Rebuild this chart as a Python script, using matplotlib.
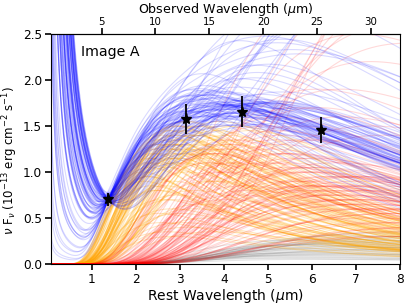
import numpy as np
import matplotlib
matplotlib.use("Agg")
import matplotlib.pyplot as plt

# ---------------- data ----------------
rest_wl = [1.378, 3.135, 4.406, 6.214]
flux = [0.703, 1.576, 1.656, 1.457]
flux_err = [0.07, 0.16, 0.165, 0.145]
one_plus_z = 4.086

# posterior-sample component parameters (estimated from the curve families)
orange_T = [1650, 1600, 1550, 1500, 1480, 1700, 1450, 1420, 1580, 1520, 1620, 1460, 1680, 1400, 1540, 1560,
            1200, 1250, 1100, 1300, 1150, 1350, 1220, 1180, 1280, 1120, 1320, 1240, 1160, 1260, 1300, 1200,
            1340, 1140, 1230, 1270, 1110, 1190, 1310, 1210, 1290, 1170, 1330, 1250,
            900, 1000, 850, 950, 1050, 800, 980, 920, 1030, 870, 960, 1010, 890, 940, 1040, 830,
            1300, 1200, 1400, 1100, 1000, 1350, 1250, 1450, 950, 1150, 1380, 1050, 1280, 1420, 1220, 980,
            1200, 1400, 1000, 1300, 1100, 1500, 900, 1250, 1600, 1150, 1050, 1350, 1300, 1100, 1450, 1000,
            1250, 1150, 1350, 1050]
orange_amp = [1.10, 1.15, 1.20, 1.30, 1.25, 1.00, 1.35, 1.30, 1.05, 1.15, 0.95, 1.20, 0.90, 1.40, 1.10, 0.85,
              1.45, 1.40, 1.50, 1.30, 1.35, 1.25, 1.20, 1.55, 1.10, 1.40, 1.35, 1.30, 1.25, 1.50, 1.20, 1.35,
              1.15, 1.45, 1.25, 1.40, 1.30, 1.50, 1.25, 1.10, 1.45, 1.20, 1.30, 1.15,
              1.40, 1.30, 1.50, 1.35, 1.25, 1.45, 1.20, 1.50, 1.40, 1.30, 1.45, 1.10, 1.25, 1.55, 1.15, 1.35,
              0.60, 0.45, 0.70, 0.80, 0.50, 0.35, 0.75, 0.55, 0.90, 0.40, 0.85, 0.65, 0.30, 0.45, 0.55, 0.35,
              1.30, 1.10, 1.25, 0.90, 1.40, 0.80, 1.10, 1.15, 0.95, 1.00, 1.20, 1.05, 0.70, 0.60, 0.80, 0.90,
              1.50, 1.55, 1.45, 1.50]
red_T = [650, 620, 680, 600, 640, 700, 580, 660, 900, 560, 850, 610, 950, 630, 670, 600,
         550, 580, 520, 600, 500, 620, 560, 540, 850, 500, 590, 610, 530, 570, 800, 520,
         600, 560, 540, 630, 510, 580, 560, 820, 520, 620, 540, 900,
         450, 480, 420, 500, 460, 440, 520, 470, 430, 490, 450, 540, 510, 440, 500, 460,
         700, 900, 680, 720, 950, 650, 920, 700, 660, 1000, 740, 690, 880, 980, 640, 700,
         450, 420, 500, 400, 550, 480, 380, 460, 520, 350, 430, 600, 650, 700, 560, 750,
         550, 500, 600, 480]
red_amp = [1.15, 1.05, 1.10, 1.05, 1.00, 1.20, 0.95, 0.90, 1.00, 1.10, 1.10, 1.15, 1.00, 0.85, 1.05, 1.35,
           0.75, 0.80, 0.70, 0.85, 0.80, 0.90, 0.95, 0.60, 0.75, 0.85, 0.75, 0.85, 0.95, 0.65, 0.80, 0.90,
           1.00, 0.75, 0.85, 0.80, 0.95, 0.70, 0.85, 0.85, 0.70, 1.00, 0.80, 0.70,
           0.35, 0.45, 0.40, 0.50, 0.55, 0.60, 0.65, 0.30, 0.40, 0.60, 0.45, 0.70, 0.65, 0.30, 0.60, 0.55,
           1.30, 1.30, 1.20, 1.25, 1.20, 1.50, 1.25, 1.35, 1.20, 1.10, 1.10, 1.40, 1.35, 1.20, 1.35, 1.45,
           2.40, 3.00, 2.20, 3.40, 1.90, 3.00, 3.80, 2.60, 2.50, 4.50, 2.80, 1.90, 1.70, 1.60, 3.00, 1.50,
           1.60, 1.50, 1.70, 1.40]
hot_index = [0.95, 1.00, 1.05, 1.00, 1.15, 0.90, 1.10, 1.20, 1.10, 1.15, 1.05, 1.20, 0.85, 1.15, 0.80, 1.25,
             1.35, 1.30, 1.45, 1.25, 1.40, 1.20, 1.40, 1.35, 1.30, 1.45, 1.20, 1.30, 1.45, 1.25, 1.30, 1.40,
             1.25, 1.45, 1.35, 1.25, 1.50, 1.35, 1.25, 1.40, 1.20, 1.45, 1.20, 1.35,
             1.55, 1.45, 1.50, 1.45, 1.40, 1.50, 1.45, 1.55, 1.40, 1.50, 1.45, 1.45, 1.55, 1.50, 1.40, 1.55,
             1.40, 1.50, 1.30, 1.45, 1.55, 1.40, 1.35, 1.30, 1.50, 1.45, 1.25, 1.50, 1.45, 1.35, 1.40, 1.55,
             1.35, 1.20, 1.45, 1.25, 1.40, 1.15, 1.50, 1.35, 1.10, 1.40, 1.45, 1.30, 1.35, 1.45, 1.25, 1.50,
             1.35, 1.40, 1.25, 1.45]
hot_at_1p38 = [0.04, 0.06, 0.08, 0.09, 0.14, 0.06, 0.13, 0.19, 0.13, 0.14, 0.15, 0.18, 0.02, 0.17, 0.03, 0.26,
               0.41, 0.36, 0.50, 0.33, 0.48, 0.29, 0.45, 0.41, 0.40, 0.50, 0.28, 0.39, 0.49, 0.33, 0.36, 0.43,
               0.33, 0.47, 0.42, 0.34, 0.52, 0.41, 0.34, 0.46, 0.29, 0.49, 0.29, 0.42,
               0.65, 0.61, 0.67, 0.63, 0.58, 0.68, 0.61, 0.64, 0.57, 0.66, 0.62, 0.62, 0.66, 0.63, 0.59, 0.68,
               0.53, 0.61, 0.44, 0.60, 0.66, 0.58, 0.52, 0.47, 0.65, 0.63, 0.40, 0.64, 0.61, 0.52, 0.58, 0.68,
               0.40, 0.28, 0.60, 0.35, 0.50, 0.24, 0.65, 0.42, 0.18, 0.48, 0.58, 0.36, 0.50, 0.60, 0.36, 0.62,
               0.42, 0.50, 0.32, 0.56]
gray_T = [520, 600, 480, 650, 550, 700, 500, 580, 620, 450, 560, 680, 530, 610, 490, 570, 640, 510, 590, 460,
          540, 660, 500, 600, 470, 630, 550, 520, 690, 580, 610, 530, 480, 570, 650]
gray_amp = [0.18, 0.12, 0.25, 0.10, 0.22, 0.08, 0.30, 0.15, 0.20, 0.28, 0.14, 0.09, 0.24, 0.17, 0.33, 0.11,
            0.21, 0.26, 0.13, 0.35, 0.19, 0.07, 0.23, 0.16, 0.29, 0.12, 0.27, 0.20, 0.06, 0.22, 0.05, 0.31,
            0.16, 0.10, 0.26]


def bb_norm(lam, T):
    """Blackbody in nu*F_nu, normalised to a peak of 1."""
    lam_peak = 3669.8 / T
    x = 14388.0 / (lam * T)
    with np.errstate(over="ignore", divide="ignore", invalid="ignore"):
        f = (lam_peak / lam) ** 4 * np.expm1(3.9207) / np.expm1(x)
    return np.nan_to_num(f)


lam = np.linspace(0.06, 8.2, 700)

fig = plt.figure(figsize=(4.07, 3.05), dpi=100)
ax = fig.add_axes([51 / 407, 41 / 305, 349 / 407, 230 / 305])

lw = 0.8
for T, A in zip(gray_T, gray_amp):
    ax.plot(lam, A * bb_norm(lam, T), color="gray", alpha=0.2, lw=lw)

oranges, reds, blues = [], [], []
for i in range(len(orange_T)):
    o = orange_amp[i] * bb_norm(lam, orange_T[i])
    r = red_amp[i] * bb_norm(lam, red_T[i])
    h = hot_at_1p38[i] * (lam / 1.38) ** (-hot_index[i])
    oranges.append(o)
    reds.append(r)
    blues.append(h + o + r)

for o in oranges:
    ax.plot(lam, o, color="orange", alpha=0.24, lw=lw)
for r in reds:
    ax.plot(lam, r, color="red", alpha=0.15, lw=lw)
for b in blues:
    ax.plot(lam, b, color="blue", alpha=0.15, lw=lw)

ax.errorbar(rest_wl, flux, yerr=flux_err, fmt="*", color="black", ms=8, elinewidth=1.3, capsize=0, zorder=10)

ax.set_xlim(0.076, 8)
ax.set_ylim(0, 2.5)
ax.set_xticks([1, 2, 3, 4, 5, 6, 7, 8])
ax.set_yticks([0.0, 0.5, 1.0, 1.5, 2.0, 2.5])
ax.tick_params(direction="out", length=4, width=1.2, labelsize=8.7, pad=2.5)
ax.set_xlabel(r"Rest Wavelength ($\mu$m)", fontsize=10, labelpad=1)
ax.set_ylabel(r"$\nu$ F$_\nu$ (10$^{-13}$ erg cm$^{-2}$ s$^{-1}$)", fontsize=8.5)
ax.yaxis.set_label_coords(-0.09, 0.45)

sec = ax.secondary_xaxis("top", functions=(lambda x: x * one_plus_z, lambda x: x / one_plus_z))
sec.set_xticks([5, 10, 15, 20, 25, 30])
sec.tick_params(direction="out", length=4, width=1.2, labelsize=7.4, pad=1.2)
sec.set_xlabel(r"Observed Wavelength ($\mu$m)", fontsize=9.1, labelpad=2.5)

ax.text(0.086, 0.906, "Image A", transform=ax.transAxes, fontsize=10.2, va="baseline", ha="left")

fig.savefig("out.png", dpi=100)
